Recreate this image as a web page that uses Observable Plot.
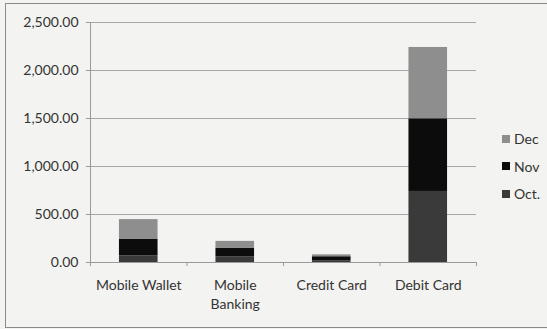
<!DOCTYPE html>
<html><head><meta charset="utf-8">
<script src="https://cdn.jsdelivr.net/npm/d3@7"></script>
<script src="https://cdn.jsdelivr.net/npm/@observablehq/plot@0.6"></script>
<style>
body{margin:0;background:#f3f3f1;}
#wrap{position:relative;width:547px;height:329px;overflow:hidden;background:#f3f3f1;font-family:Lato,sans-serif;}
#wrap svg{position:absolute;left:0;top:0;}
#border{position:absolute;left:5px;top:3px;width:560px;height:323px;border:1px solid #8a8a8a;}
#legend{position:absolute;left:502px;top:125px;font-size:14px;color:#333;}
.item{display:flex;align-items:center;height:27.5px;}
.sw{width:8px;height:8px;margin-right:4px;}
</style></head><body><div id="wrap"><div id="border"></div><div id="legend"></div></div>
<script>
const categories = ["Mobile Wallet", "Mobile\nBanking", "Credit Card", "Debit Card"];
const months = ["Oct.", "Nov", "Dec"];
const octValues = [70, 60, 15, 740];
const novValues = [174, 90, 45, 757];
const decValues = [203, 70, 20, 743];
const yTicks = [0, 500, 1000, 1500, 2000, 2500];
const colors = ["#3a3a3a", "#0c0c0c", "#8e8e8e"];

const series = [octValues, novValues, decValues];
const rows = [];
categories.forEach((c, i) => {
  let base = 0;
  series.forEach((vals, m) => {
    rows.push({i, cat: c, month: months[m], y1: base, y2: base + vals[i]});
    base += vals[i];
  });
});

const chart = Plot.plot({
  width: 547, height: 329,
  marginLeft: 90, marginRight: 71, marginTop: 22, marginBottom: 67,
  x: {domain: [0, categories.length], axis: null},
  y: {domain: [0, 2500], axis: null},
  color: {domain: months, range: colors},
  style: {background: "transparent", fontFamily: "Lato, sans-serif", fontSize: "14px", color: "#333"},
  marks: [
    Plot.ruleY(yTicks.filter(d => d > 0), {stroke: "#a8a8a8"}),
    Plot.rect(rows, {x1: d => d.i + 0.3, x2: d => d.i + 0.7, y1: "y1", y2: "y2", fill: "month"}),
    Plot.ruleY([0], {stroke: "#9a9a9a"}),
    Plot.ruleX([0], {stroke: "#9a9a9a"}),
    Plot.axisY({ticks: yTicks, tickFormat: d3.format(",.2f"), tickSize: 4, tickPadding: 8, stroke: "#9a9a9a", fill: "#333", fontSize: 14}),
    Plot.axisX({ticks: d3.range(categories.length + 1), tickFormat: () => "", tickSize: 4, stroke: "#9a9a9a"}),
    Plot.text(categories, {x: (d, i) => i + 0.5, y: 0, text: d => d, dy: 15, lineAnchor: "top", lineHeight: 1.3, fill: "#333", fontSize: 14})
  ]
});
document.getElementById("wrap").appendChild(chart);

const legend = document.getElementById("legend");
[...months].reverse().forEach(m => {
  const it = document.createElement("div");
  it.className = "item";
  const sw = document.createElement("span");
  sw.className = "sw";
  sw.style.background = colors[months.indexOf(m)];
  const t = document.createElement("span");
  t.textContent = m;
  it.appendChild(sw); it.appendChild(t);
  legend.appendChild(it);
});
</script>
</body></html>
